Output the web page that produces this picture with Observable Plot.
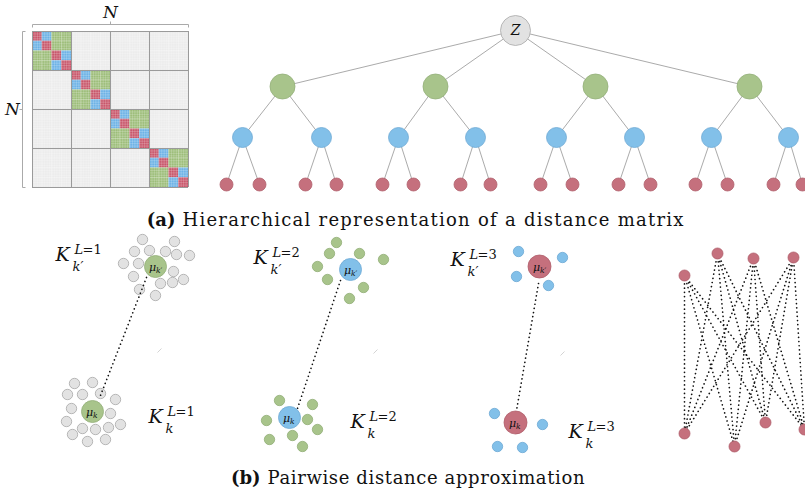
<!DOCTYPE html>
<html>
<head>
<meta charset="utf-8">
<script src="https://cdn.jsdelivr.net/npm/d3@7"></script>
<script src="https://cdn.jsdelivr.net/npm/@observablehq/plot@0.6"></script>
<style>
  body { margin: 0; background: #fff; }
  svg { display: block; }
  svg text { font-family: "DejaVu Serif", "Liberation Serif", serif; }
</style>
</head>
<body>
<div id="chart"></div>
<script>
// ---- Hierarchy (diagram units: px right, px down) ----
const levelY = {root: 30, green: 86, blue: 137, leaf: 184};
const rootX = 515;
const greenX = [282, 435, 595, 749];
const blueX = [242, 321, 398, 475, 556, 634, 711, 788];
const leafX = [226, 259, 305, 336, 382, 413, 460, 490, 540, 572, 618, 650, 695, 727, 773, 802];

// parent of each blue node (green index) and of each leaf (blue index)
const blueParent = [0, 0, 1, 1, 2, 2, 3, 3];
const leafParent = [0, 0, 1, 1, 2, 2, 3, 3, 4, 4, 5, 5, 6, 6, 7, 7];

// ---- Distance matrix frame ----
const matrixBox = {x0: 32, y0: 31, size: 156};
const nLeaves = leafX.length;

// ---- Panel (b): clusters ----
const p1Top = [[142,239],[174,241],[134,251],[149,250],[165,251],[176,254],[189,255],[123,263],[138,263],[173,271],[183,279],[133,276],[160,283],[172,282],[139,289],[155,295]];
const p1Bottom = [[74,383],[92,382],[67,394],[82,394],[100,393],[115,399],[71,408],[110,413],[66,421],[82,428],[95,429],[108,427],[120,424],[72,434],[87,441],[105,439]];
const p2Top = [[336,242],[329,253],[359,253],[383,259],[317,266],[327,279],[363,287],[349,298]];
const p2Bottom = [[279,400],[312,404],[266,420],[307,419],[317,429],[292,435],[269,439],[302,446]];
const p3Top = [[518,251],[562,257],[516,276],[548,285]];
const p3Bottom = [[494,413],[542,424],[497,446],[522,447]];

const centers = [
  {x: 155, y: 266, level: "green", sub: "k\u2032"},
  {x: 92,  y: 411, level: "green", sub: "k"},
  {x: 350, y: 269, level: "blue",  sub: "k\u2032"},
  {x: 289, y: 417, level: "blue",  sub: "k"},
  {x: 539, y: 266, level: "red",   sub: "k\u2032"},
  {x: 515, y: 422, level: "red",   sub: "k"}
];

// approximated centroid-to-centroid distances
const distanceLinks = [
  {x1: 146, y1: 277, x2: 100, y2: 395},
  {x1: 340, y1: 280, x2: 297, y2: 408},
  {x1: 538, y1: 283, x2: 516, y2: 410}
];

// exact pairwise distances between leaf points
const pairTop = [[684,275],[717,253],[753,258],[793,257]];
const pairBottom = [[684,433],[734,446],[765,422],[804,429]];

const clusterLabels = [
  {x: 55,  y: 260, level: 1, prime: true},
  {x: 148, y: 422, level: 1, prime: false},
  {x: 253, y: 263, level: 2, prime: true},
  {x: 350, y: 427, level: 2, prime: false},
  {x: 450, y: 265, level: 3, prime: true},
  {x: 568, y: 437, level: 3, prime: false}
];

// caption: bold tag ends just before bodyX, body spans bodyX..bodyEnd
const captions = [
  {tag: "(a)", text: "Hierarchical representation of a distance matrix", bodyX: 182, bodyEnd: 683, y: 225},
  {tag: "(b)", text: "Pairwise distance approximation", bodyX: 267, bodyEnd: 584, y: 483}
];

// ---- colours ----
const colors = {
  green: "#a8c48b", greenStroke: "#93ae78",
  blue: "#82c0e9", blueStroke: "#6eaad4",
  red: "#c5707d", redStroke: "#b05e6b",
  gray: "#e2e2e2", grayStroke: "#a8a8a8",
  edge: "#a0a0a0"
};
const matrixColors = {leaf: "#c8566a", blue: "#6cb2e6", green: "#9cbd78", none: "#ececec"};

const serif = "DejaVu Serif";

// ---- derived geometry ----
const treeEdges = [
  ...greenX.map(x => ({x1: rootX, y1: levelY.root, x2: x, y2: levelY.green})),
  ...blueX.map((x, i) => ({x1: greenX[blueParent[i]], y1: levelY.green, x2: x, y2: levelY.blue})),
  ...leafX.map((x, i) => ({x1: blueX[leafParent[i]], y1: levelY.blue, x2: x, y2: levelY.leaf}))
];

const cellSize = matrixBox.size / nLeaves;
const cells = [];
for (let i = 0; i < nLeaves; ++i) {
  for (let j = 0; j < nLeaves; ++j) {
    const bi = leafParent[i], bj = leafParent[j];
    const level = i === j ? "leaf"
      : bi === bj ? "blue"
      : blueParent[bi] === blueParent[bj] ? "green" : "none";
    cells.push({
      x1: matrixBox.x0 + j * cellSize, x2: matrixBox.x0 + (j + 1) * cellSize,
      y1: matrixBox.y0 + i * cellSize, y2: matrixBox.y0 + (i + 1) * cellSize,
      level
    });
  }
}
const fine = d3.range(1, nLeaves * 4).map(k => k * cellSize / 4);
const blocks = d3.range(0, 5).map(k => k * matrixBox.size / 4);
const mx0 = matrixBox.x0, my0 = matrixBox.y0, mx1 = mx0 + matrixBox.size, my1 = my0 + matrixBox.size;

const braceSegments = [
  {x1: mx0, y1: 24, x2: mx1, y2: 24}, {x1: mx0, y1: 24, x2: mx0, y2: 27}, {x1: mx1, y1: 24, x2: mx1, y2: 27},
  {x1: (mx0 + mx1) / 2, y1: 24, x2: (mx0 + mx1) / 2, y2: 21},
  {x1: 22, y1: my0, x2: 22, y2: my1}, {x1: 22, y1: my0, x2: 25, y2: my0}, {x1: 22, y1: my1, x2: 25, y2: my1},
  {x1: 22, y1: (my0 + my1) / 2, x2: 19, y2: (my0 + my1) / 2}
];

const pt = ([x, y]) => ({x, y});
const pairLinks = [];
for (const a of pairTop) for (const b of pairBottom) pairLinks.push({x1: a[0], y1: a[1], x2: b[0], y2: b[1]});

const strays = [
  {x1: 157, y1: 352, x2: 161, y2: 348},
  {x1: 373, y1: 353, x2: 377, y2: 349},
  {x1: 560, y1: 355, x2: 564, y2: 351}
];

// text pieces for K_k^{L=n}
const bigK = [], supItalic = [], supRoman = [], subItalic = [];
for (const d of clusterLabels) {
  bigK.push({x: d.x, y: d.y, t: "K"});
  supItalic.push({x: d.x + 19, y: d.y - 7, t: "L"});
  supRoman.push({x: d.x + 27, y: d.y - 7, t: "=" + d.level});
  subItalic.push({x: d.x + 17, y: d.y + 10, t: d.prime ? "k\u2032" : "k"});
}

const textBase = {x: "x", y: "y", text: "t", textAnchor: "start", lineAnchor: "bottom", fill: "#111", fontFamily: serif};
const dots = (data, r, fill, stroke) =>
  Plot.dot(data, {x: "x", y: "y", r, fill, stroke, strokeWidth: 0.8});
const dotted = {stroke: "#111", strokeWidth: 1.7, strokeDasharray: "0.01 4.2", strokeLinecap: "round"};

const chart = Plot.plot({
  width: 805,
  height: 492,
  margin: 0,
  x: {domain: [0, 805], range: [0, 805], axis: null},
  y: {domain: [0, 492], range: [0, 492], axis: null},
  style: {background: "#fff", fontFamily: serif},
  marks: [
    // distance matrix
    Plot.rect(cells, {x1: "x1", x2: "x2", y1: "y1", y2: "y2", fill: d => matrixColors[d.level]}),
    Plot.ruleX(fine, {x: d => mx0 + d, y1: my0, y2: my1, stroke: "#fff", strokeOpacity: 0.35, strokeWidth: 0.6}),
    Plot.ruleY(fine, {y: d => my0 + d, x1: mx0, x2: mx1, stroke: "#fff", strokeOpacity: 0.35, strokeWidth: 0.6}),
    Plot.ruleX(blocks, {x: d => mx0 + d, y1: my0, y2: my1, stroke: "#9a9a9a", strokeWidth: 1}),
    Plot.ruleY(blocks, {y: d => my0 + d, x1: mx0, x2: mx1, stroke: "#9a9a9a", strokeWidth: 1}),
    Plot.link(braceSegments, {x1: "x1", y1: "y1", x2: "x2", y2: "y2", stroke: "#aaa", strokeWidth: 1}),
    Plot.text([{x: (mx0 + mx1) / 2, y: 12, t: "N"}, {x: 12, y: (my0 + my1) / 2, t: "N"}],
      {x: "x", y: "y", text: "t", fontSize: 17, fontStyle: "italic", fill: "#111", fontFamily: serif}),

    // hierarchy tree
    Plot.link(treeEdges, {x1: "x1", y1: "y1", x2: "x2", y2: "y2", stroke: colors.edge, strokeWidth: 0.9}),
    dots([{x: rootX, y: levelY.root}], 15, colors.gray, colors.grayStroke),
    dots(greenX.map(x => ({x, y: levelY.green})), 12.5, colors.green, colors.greenStroke),
    dots(blueX.map(x => ({x, y: levelY.blue})), 10, colors.blue, colors.blueStroke),
    dots(leafX.map(x => ({x, y: levelY.leaf})), 6.5, colors.red, colors.redStroke),
    Plot.text([{x: rootX, y: levelY.root, t: "Z"}], {x: "x", y: "y", text: "t", fontSize: 14, fontStyle: "italic", fill: "#111", fontFamily: serif}),

    // panel (b) clusters
    dots([...p1Top, ...p1Bottom].map(pt), 5.2, colors.gray, colors.grayStroke),
    dots([...p2Top, ...p2Bottom].map(pt), 5.2, colors.green, colors.greenStroke),
    dots([...p3Top, ...p3Bottom].map(pt), 5.2, colors.blue, colors.blueStroke),
    Plot.link(strays, {x1: "x1", y1: "y1", x2: "x2", y2: "y2", stroke: "#d4d4d4", strokeWidth: 1}),
    Plot.link(distanceLinks, {x1: "x1", y1: "y1", x2: "x2", y2: "y2", ...dotted}),
    dots(centers.filter(d => d.level === "green"), 11, colors.green, colors.greenStroke),
    dots(centers.filter(d => d.level === "blue"), 11, colors.blue, colors.blueStroke),
    dots(centers.filter(d => d.level === "red"), 11.5, colors.red, colors.redStroke),
    Plot.text(centers, {x: d => d.x - 6.5, y: d => d.y + 4, text: () => "\u03bc", fontSize: 11, fontStyle: "italic", textAnchor: "start", lineAnchor: "bottom", fill: "#111", fontFamily: serif}),
    Plot.text(centers, {x: d => d.x + 0.5, y: d => d.y + 6, text: "sub", fontSize: 7.5, fontStyle: "italic", textAnchor: "start", lineAnchor: "bottom", fill: "#111", fontFamily: serif}),

    // exact pairwise distances
    Plot.link(pairLinks, {x1: "x1", y1: "y1", x2: "x2", y2: "y2", ...dotted}),
    dots([...pairTop, ...pairBottom].map(pt), 5.5, colors.red, colors.redStroke),

    // cluster labels K_k^{L=n}
    Plot.text(bigK, {...textBase, fontSize: 19, fontStyle: "italic"}),
    Plot.text(supItalic, {...textBase, fontSize: 13, fontStyle: "italic"}),
    Plot.text(supRoman, {...textBase, fontSize: 13}),
    Plot.text(subItalic, {...textBase, fontSize: 13, fontStyle: "italic"}),

    // sub-figure captions
    Plot.text(captions, {x: d => d.bodyX - 7, y: "y", text: "tag", fontSize: 18, fontWeight: "bold", textAnchor: "end", lineAnchor: "bottom", fill: "#111", fontFamily: serif}),
    Plot.text(captions, {x: "bodyX", y: "y", text: "text", fontSize: 18, textAnchor: "start", lineAnchor: "bottom", fill: "#111", fontFamily: serif, className: "caption-body"})
  ]
});

// set caption bodies to their typeset widths
d3.select(chart).selectAll(".caption-body text").each(function(_, i) {
  const c = captions[i];
  this.setAttribute("textLength", c.bodyEnd - c.bodyX);
  this.setAttribute("lengthAdjust", "spacing");
});

document.getElementById("chart").append(chart);
</script>
</body>
</html>
